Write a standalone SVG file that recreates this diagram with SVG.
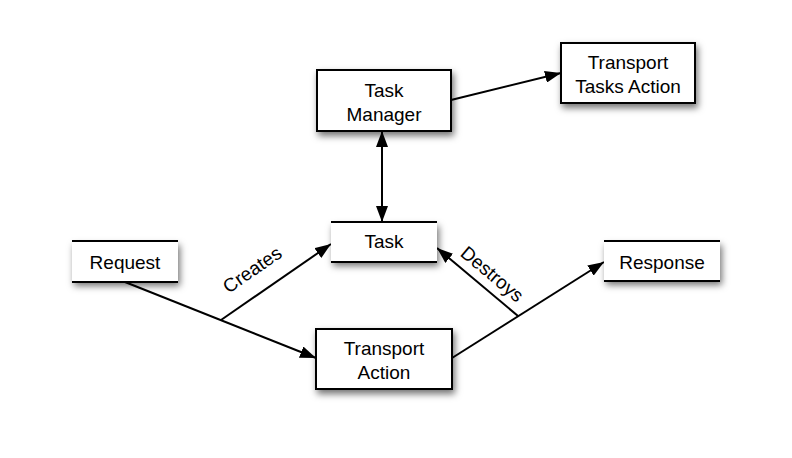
<svg xmlns="http://www.w3.org/2000/svg" width="792" height="458" viewBox="0 0 792 458">
<defs>
<filter id="sh" x="-20%" y="-20%" width="150%" height="170%">
<feDropShadow dx="2" dy="4" stdDeviation="3.5" flood-color="#000" flood-opacity="0.55"/>
</filter>
<marker id="ah" viewBox="0 0 16 12" refX="16" refY="6" markerWidth="16" markerHeight="12" markerUnits="userSpaceOnUse" orient="auto-start-reverse">
<path d="M0,0 L16,6 L0,12 Z" fill="#000"/>
</marker>
<style>
text{font-family:"Liberation Sans",Arial,sans-serif;font-size:19px;fill:#000;text-anchor:middle}
.box{fill:#fff;stroke:#000;stroke-width:2}
.bg{fill:#fff;stroke:none}
.ln{stroke:#000;stroke-width:2}
.c{fill:none;stroke:#000;stroke-width:2}
</style>
</defs>
<rect width="792" height="458" fill="#fff"/>
<g id="connectors">
<line class="c" x1="125" y1="282" x2="316" y2="358" marker-end="url(#ah)"/>
<line class="c" x1="221" y1="320" x2="331" y2="244" marker-end="url(#ah)"/>
<line class="c" x1="452" y1="358" x2="604" y2="262" marker-end="url(#ah)"/>
<line class="c" x1="518" y1="316" x2="437" y2="248" marker-end="url(#ah)"/>
<line class="c" x1="451" y1="100" x2="561" y2="73" marker-end="url(#ah)"/>
<line class="c" x1="382" y1="131" x2="382" y2="222" marker-start="url(#ah)" marker-end="url(#ah)"/>
<text transform="translate(256,275) rotate(-34.6)">Creates</text>
<text transform="translate(488,279) rotate(40)">Destroys</text>
</g>
<g id="request">
<rect class="bg" x="72" y="241" width="106" height="41" filter="url(#sh)"/>
<line class="ln" x1="72" y1="241" x2="178" y2="241"/>
<line class="ln" x1="72" y1="282" x2="178" y2="282"/>
<text x="125" y="269">Request</text>
</g>
<g id="task-manager">
<rect class="box" x="317" y="70" width="134" height="61" filter="url(#sh)"/>
<text x="384" y="97">Task</text>
<text x="384" y="121">Manager</text>
</g>
<g id="transport-tasks-action">
<rect class="box" x="561" y="43" width="134" height="60" filter="url(#sh)"/>
<text x="628" y="69">Transport</text>
<text x="628" y="93">Tasks Action</text>
</g>
<g id="task">
<rect class="bg" x="331" y="222" width="106" height="40" filter="url(#sh)"/>
<line class="ln" x1="331" y1="222" x2="437" y2="222"/>
<line class="ln" x1="331" y1="262" x2="437" y2="262"/>
<text x="384" y="248">Task</text>
</g>
<g id="transport-action">
<rect class="box" x="316" y="329" width="136" height="60" filter="url(#sh)"/>
<text x="384" y="355">Transport</text>
<text x="384" y="379">Action</text>
</g>
<g id="response">
<rect class="bg" x="604" y="241" width="116" height="40" filter="url(#sh)"/>
<line class="ln" x1="604" y1="241" x2="720" y2="241"/>
<line class="ln" x1="604" y1="281" x2="720" y2="281"/>
<text x="662" y="269">Response</text>
</g>
</svg>
